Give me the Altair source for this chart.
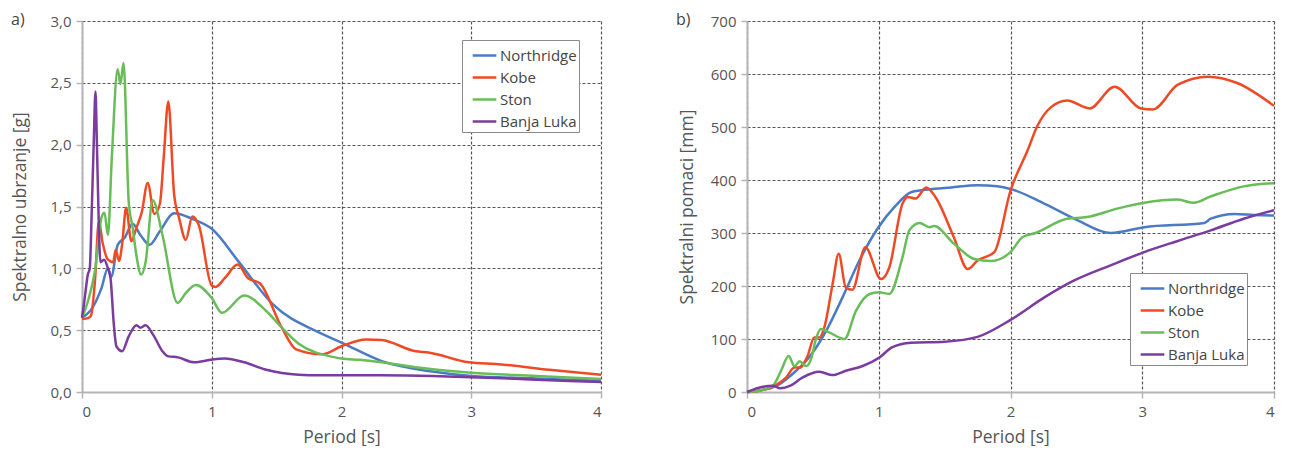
import altair as alt
import pandas as pd

FONT = "Open Sans"
TXT = "#555555"

series = ["Northridge", "Kobe", "Ston", "Banja Luka"]
colors = ["#4a7bc4", "#ee4a26", "#68bd58", "#7a3c9e"]
x_ticks = [0, 1, 2, 3, 4]
acc_ticks = [0, 0.5, 1.0, 1.5, 2.0, 2.5, 3.0]
disp_ticks = [0, 100, 200, 300, 400, 500, 600, 700]

# ---- a) spectral acceleration [g] ----
acc_north_t = [0, 0.08, 0.15, 0.2, 0.225, 0.275, 0.33, 0.39, 0.45, 0.52, 0.6, 0.71, 0.85, 1.0, 1.21, 1.47, 1.83, 2.0, 2.31, 2.7, 3.0, 3.5, 4.0]
acc_north_v = [0.60, 0.68, 0.84, 1.0, 0.93, 1.19, 1.25, 1.36, 1.27, 1.19, 1.3, 1.445, 1.40, 1.32, 1.05, 0.71, 0.48, 0.40, 0.25, 0.165, 0.13, 0.11, 0.09]

acc_kobe_t = [0, 0.05, 0.07, 0.1, 0.13, 0.16, 0.2, 0.24, 0.26, 0.285, 0.31, 0.34, 0.38, 0.42, 0.46, 0.506, 0.558, 0.6, 0.63, 0.665, 0.71, 0.75, 0.80, 0.85, 0.9, 1.0, 1.03, 1.1, 1.2, 1.28, 1.37, 1.54, 1.65, 1.85, 2.0, 2.19, 2.31, 2.57, 2.67, 2.98, 3.21, 3.6, 4.0]
acc_kobe_v = [0.59, 0.60, 0.62, 0.9, 1.38, 1.2, 1.07, 1.05, 1.15, 1.06, 1.2, 1.49, 1.22, 1.33, 1.45, 1.69, 1.44, 1.52, 1.9, 2.35, 1.6, 1.40, 1.23, 1.42, 1.35, 0.86, 0.85, 0.92, 1.03, 0.92, 0.88, 0.52, 0.345, 0.305, 0.37, 0.425, 0.42, 0.33, 0.32, 0.24, 0.225, 0.18, 0.14]

acc_ston_t = [0, 0.05, 0.1, 0.15, 0.173, 0.2, 0.23, 0.275, 0.296, 0.32, 0.36, 0.39, 0.42, 0.455, 0.49, 0.545, 0.62, 0.737, 0.8, 0.878, 1.0, 1.078, 1.25, 1.42, 1.54, 1.67, 1.8, 1.87, 2.0, 2.14, 2.31, 2.57, 3.0, 3.5, 4.0]
acc_ston_v = [0.6, 0.75, 0.98, 1.41, 1.45, 1.27, 1.9, 2.61, 2.49, 2.66, 1.54, 1.33, 1.1, 0.95, 1.05, 1.55, 1.27, 0.72, 0.8, 0.865, 0.76, 0.64, 0.78, 0.655, 0.52, 0.39, 0.32, 0.30, 0.27, 0.26, 0.24, 0.20, 0.155, 0.13, 0.105]

acc_banja_t = [0, 0.02, 0.045, 0.06, 0.075, 0.09, 0.104, 0.115, 0.127, 0.142, 0.17, 0.2, 0.22, 0.245, 0.265, 0.31, 0.36, 0.42, 0.45, 0.49, 0.55, 0.62, 0.66, 0.74, 0.865, 0.99, 1.1, 1.25, 1.42, 1.67, 1.83, 2.3, 2.7, 3.0, 3.5, 4.0]
acc_banja_v = [0.60, 0.75, 0.95, 1.0, 1.46, 2.0, 2.43, 2.0, 1.46, 1.05, 1.07, 1.0, 0.92, 0.55, 0.37, 0.33, 0.45, 0.54, 0.52, 0.54, 0.46, 0.33, 0.29, 0.28, 0.24, 0.26, 0.27, 0.24, 0.18, 0.14, 0.135, 0.135, 0.13, 0.12, 0.10, 0.08]

# ---- b) spectral displacement [mm] ----
disp_north_t = [0, 0.1, 0.22, 0.35, 0.47, 0.6, 0.726, 0.853, 0.99, 1.13, 1.245, 1.37, 1.55, 1.75, 1.9, 2.0, 2.26, 2.51, 2.76, 3.015, 3.47, 3.52, 3.70, 3.85, 4.0]
disp_north_v = [0, 3, 11, 35, 65, 115, 179, 248, 308, 352, 377, 382, 386, 390, 388, 383, 355, 324, 300, 311, 319, 327, 336, 334, 333]

disp_kobe_t = [0, 0.1, 0.22, 0.296, 0.36, 0.4, 0.46, 0.51, 0.55, 0.587, 0.65, 0.696, 0.75, 0.8, 0.898, 1.017, 1.08, 1.18, 1.22, 1.28, 1.36, 1.43, 1.57, 1.675, 1.75, 1.877, 2.0, 2.13, 2.2, 2.31, 2.43, 2.6, 2.79, 2.99, 3.08, 3.27, 3.5, 3.72, 4.0]
disp_kobe_v = [0, 3, 13, 27, 46, 46, 68, 103, 103, 122, 204, 261, 197, 193, 273, 213, 235, 355, 368, 365, 386, 368, 292, 232, 248, 264, 380, 456, 500, 538, 550, 535, 576, 535, 533, 580, 595, 583, 540]

disp_ston_t = [0, 0.1, 0.2, 0.258, 0.316, 0.36, 0.4, 0.448, 0.49, 0.52, 0.56, 0.62, 0.74, 0.827, 0.93, 1.0, 1.08, 1.18, 1.232, 1.31, 1.385, 1.42, 1.57, 1.725, 1.85, 2.0, 2.09, 2.19, 2.43, 2.58, 2.81, 3.015, 3.27, 3.39, 3.52, 3.77, 4.0]
disp_ston_v = [0, 3, 13, 40, 68, 49, 58, 49, 65, 97, 119, 113, 100, 153, 185, 188, 185, 254, 305, 319, 311, 313, 280, 251, 247, 264, 292, 300, 327, 330, 346, 357, 363, 357, 369, 388, 394]

disp_banja_t = [0, 0.12, 0.2, 0.25, 0.33, 0.42, 0.55, 0.65, 0.75, 0.878, 1.005, 1.1, 1.245, 1.5, 1.75, 2.0, 2.26, 2.48, 2.76, 3.015, 3.27, 3.52, 3.77, 4.0]
disp_banja_v = [0, 10, 12, 7, 12, 27, 38, 32, 40, 49, 65, 84, 93, 95, 104, 136, 179, 210, 239, 264, 285, 305, 327, 343]


def long_table(pairs):
    rows = []
    for name, (ts, vs) in zip(series, pairs):
        for i, (t, v) in enumerate(zip(ts, vs)):
            rows.append({"series": name, "t": t, "v": v, "i": i})
    return pd.DataFrame(rows)


acc_df = long_table([(acc_north_t, acc_north_v), (acc_kobe_t, acc_kobe_v),
                     (acc_ston_t, acc_ston_v), (acc_banja_t, acc_banja_v)])
disp_df = long_table([(disp_north_t, disp_north_v), (disp_kobe_t, disp_kobe_v),
                      (disp_ston_t, disp_ston_v), (disp_banja_t, disp_banja_v)])


def panel(df, label, ytitle, ydomain, yticks, label_expr, lx, ly, tpad, width):
    x = alt.X("t:Q", scale=alt.Scale(domain=[0, 4], nice=False),
              axis=alt.Axis(values=x_ticks, format="d", title="Period [s]",
                            labelPadding=6, titlePadding=9))
    y = alt.Y("v:Q", scale=alt.Scale(domain=ydomain, nice=False),
              axis=alt.Axis(values=yticks, labelExpr=label_expr, title=ytitle,
                            labelPadding=5, titlePadding=tpad))
    color = alt.Color("series:N", sort=series,
                      scale=alt.Scale(domain=series, range=colors),
                      legend=alt.Legend(title=None, orient="none", legendX=lx, legendY=ly,
                                        symbolType="stroke", symbolSize=560,
                                        symbolStrokeWidth=2.5, rowPadding=0,
                                        symbolOffset=7,
                                        labelExpr="datum.label + '\u00a0\u00a0'",
                                        labelFontSize=15, labelFont=FONT, labelColor="#444",
                                        labelOffset=2, padding=2, strokeColor="#8a8a8a",
                                        fillColor="white"))
    lines = alt.Chart(df).mark_line(strokeWidth=2.5, interpolate="monotone").encode(
        x=x, y=y, color=color, order=alt.Order("i:Q"))
    lab = alt.Chart(pd.DataFrame({"l": [label]})).mark_text(
        align="left", baseline="middle", fontSize=16, font=FONT, color="#444").encode(
        x=alt.value(-71), y=alt.value(-1), text="l:N")
    return alt.layer(lines, lab).properties(width=width, height=371)


left = panel(acc_df, "a)", "Spektralno ubrzanje [g]", [0, 3], acc_ticks,
             "replace(format(datum.value, '.1f'), '.', ',')", 380, 19, 20, 519)
right = panel(disp_df, "b)", "Spektralni pomaci [mm]", [0, 700], disp_ticks,
              "format(datum.value, 'd')", 383, 252, 14, 527)

chart = alt.hconcat(left, right, spacing=70).resolve_scale(color="independent").properties(
    padding={"left": 3, "top": 4, "right": 0, "bottom": 0}
).configure_view(stroke=None).configure_axis(
    domainColor="#b5b5b5", domainWidth=2, tickColor="#b5b5b5", tickWidth=1.5, tickSize=6,
    gridColor="#555555", gridDash=[3, 2], gridWidth=1.2,
    labelColor=TXT, titleColor=TXT, labelFont=FONT, titleFont=FONT,
    labelFontSize=15, titleFontSize=17.5, titleFontWeight="normal"
)

chart.save("out.html", embed_options={"renderer": "svg", "actions": False})
